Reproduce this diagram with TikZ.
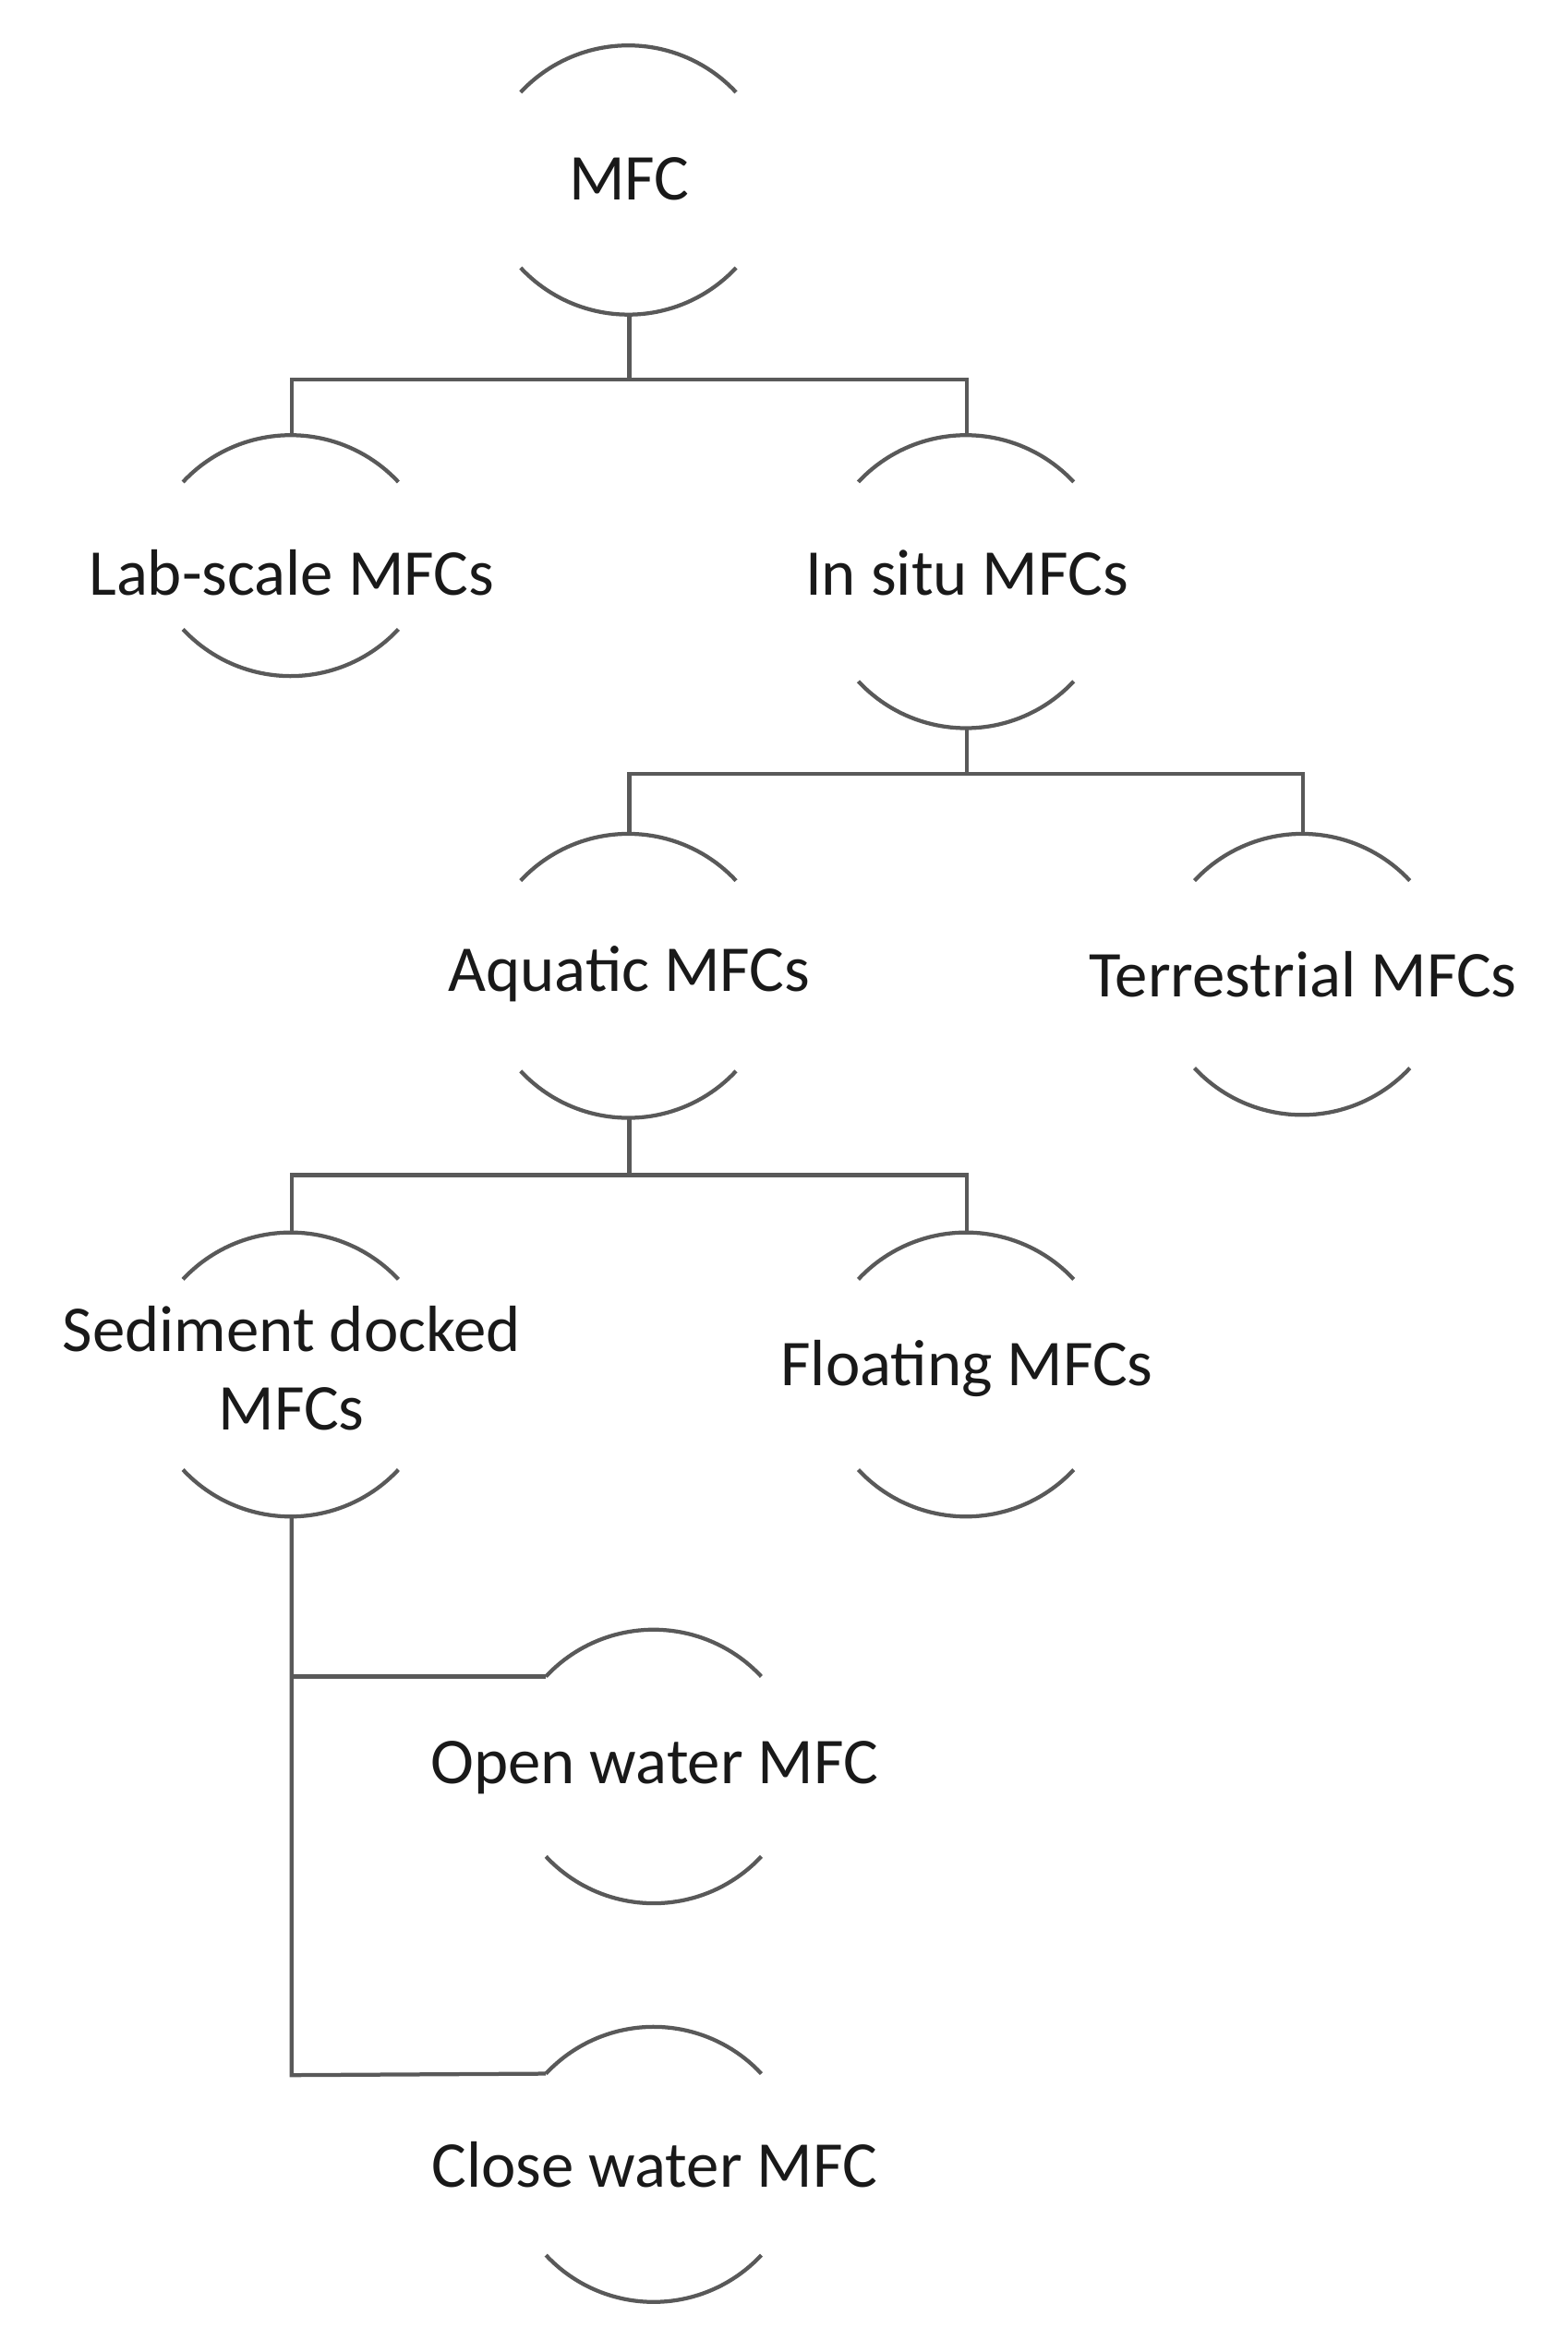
\documentclass[tikz,border=0pt]{standalone}
\usepackage{fontspec}
\setmainfont{Carlito}
\begin{document}
\begin{tikzpicture}[x=0.01cm,y=-0.01cm,
  ln/.style={draw=black!65,line width=0.75pt},
  lbl/.style={font=\fontsize{12.5}{15}\selectfont,text=black!90,align=center}]
\useasboundingbox (0,0) rectangle (1054,1565);
% \blk{name}{cx}{top}{bottom}{text}{texty}
\newcommand\blk[6]{%
  \node[lbl] (#1t) at (#2,#6) {#5};
  \coordinate (#1n) at (#2,#3);
  \coordinate (#1s) at (#2,#4);
  \coordinate (#1w) at ({#2-73},{#3+32});
  \draw[ln] ({#2-73},{#3+32}) arc[start angle=-137,end angle=-43,radius=99];
  \draw[ln] ({#2-73},{#4-32}) arc[start angle=137,end angle=43,radius=99];
}
\blk{mfc}{423}{30}{212}{MFC}{120}
\blk{lab}{196}{292}{455}{Lab-scale MFCs}{385}
\blk{ins}{650}{292}{490}{In situ MFCs}{385}
\blk{aq}{423}{560}{752}{Aquatic MFCs}{655}
\blk{ter}{876}{560}{750}{Terrestrial MFCs}{655}
\blk{sed}{196}{828}{1020}{Sediment docked\\MFCs}{920}
\blk{flo}{650}{828}{1020}{Floating MFCs}{920}
\blk{ope}{440}{1095}{1280}{Open water MFC}{1188}
\blk{clo}{440}{1362}{1548}{Close water MFC}{1455}
\draw[ln] (mfcs) -- (423,255) -| (labn);
\draw[ln] (423,255) -| (insn);
\draw[ln] (inss) -- (650,520) -| (aqn);
\draw[ln] (650,520) -| (tern);
\draw[ln] (aqs) -- (423,790) -| (sedn);
\draw[ln] (423,790) -| (flon);
\draw[ln] (seds) -- (196,1395) -- (clow);
\draw[ln] (196,1127) -- (opew);
\end{tikzpicture}
\end{document}
